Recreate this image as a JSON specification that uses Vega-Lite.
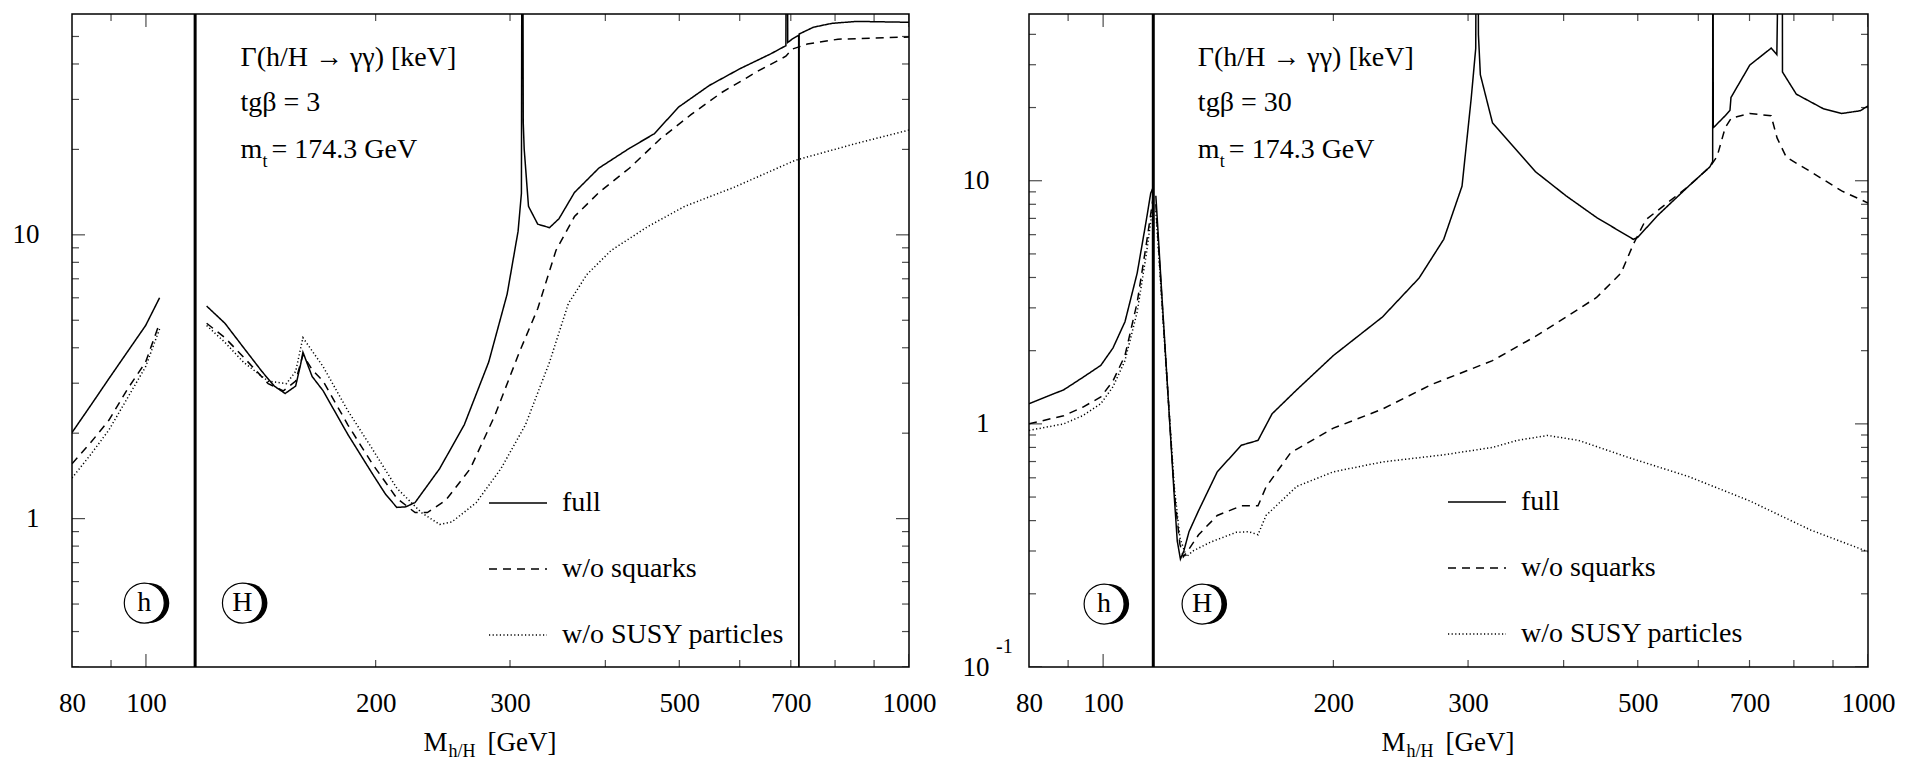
{
 "$schema": "https://vega.github.io/schema/vega-lite/v6.json",
 "background": "white",
 "padding": {"left": 11, "top": 11, "right": 5, "bottom": 0},
 "spacing": 24,
 "config": {
  "font": "Liberation Serif",
  "view": {"stroke": "black", "strokeWidth": 1.5},
  "axis": {"labelFont": "Liberation Serif", "labelFontSize": 27, "labelColor": "black", "ticks": false, "domain": false, "grid": false, "labelOverlap": false, "labelFlush": false},
  "legend": {"orient": "none", "title": null, "symbolType": "stroke", "symbolSize": 3364, "symbolStrokeWidth": 1.5, "symbolStrokeColor": "black", "labelFont": "Liberation Serif", "labelFontSize": 28, "labelColor": "black", "labelOffset": 14, "labelLimit": 0, "rowPadding": 22, "padding": 0}
 },
 "datasets": {
  "L": [
   {"s":"full","seg":"h","m":80,"g":2.01},{"s":"full","seg":"h","m":84.6,"g":2.5},{"s":"full","seg":"h","m":89.4,"g":3.11},{"s":"full","seg":"h","m":94.5,"g":3.86},{"s":"full","seg":"h","m":99.9,"g":4.79},{"s":"full","seg":"h","m":104.2,"g":6.0},
   {"s":"w/o squarks","seg":"h","m":80,"g":1.56},{"s":"w/o squarks","seg":"h","m":84.6,"g":1.85},{"s":"w/o squarks","seg":"h","m":89.4,"g":2.22},{"s":"w/o squarks","seg":"h","m":94.5,"g":2.85},{"s":"w/o squarks","seg":"h","m":99.9,"g":3.56},{"s":"w/o squarks","seg":"h","m":104.2,"g":4.89},
   {"s":"w/o SUSY particles","seg":"h","m":80,"g":1.39},{"s":"w/o SUSY particles","seg":"h","m":84.6,"g":1.68},{"s":"w/o SUSY particles","seg":"h","m":89.4,"g":2.05},{"s":"w/o SUSY particles","seg":"h","m":94.5,"g":2.65},{"s":"w/o SUSY particles","seg":"h","m":99.9,"g":3.43},{"s":"w/o SUSY particles","seg":"h","m":104.2,"g":4.66},
   {"s":"full","seg":"H","m":120.1,"g":5.61},{"s":"full","seg":"H","m":126.9,"g":4.88},{"s":"full","seg":"H","m":134.2,"g":4.01},{"s":"full","seg":"H","m":141.9,"g":3.3},{"s":"full","seg":"H","m":147.3,"g":2.93},{"s":"full","seg":"H","m":152.2,"g":2.76},{"s":"full","seg":"H","m":157.1,"g":2.93},{"s":"full","seg":"H","m":159.5,"g":3.5},{"s":"full","seg":"H","m":160.6,"g":3.86},{"s":"full","seg":"H","m":165.1,"g":3.17},{"s":"full","seg":"H","m":170.7,"g":2.82},{"s":"full","seg":"H","m":183.9,"g":1.98},{"s":"full","seg":"H","m":198,"g":1.44},{"s":"full","seg":"H","m":206,"g":1.22},{"s":"full","seg":"H","m":213.2,"g":1.095},{"s":"full","seg":"H","m":219,"g":1.1},{"s":"full","seg":"H","m":225.3,"g":1.14},{"s":"full","seg":"H","m":242.6,"g":1.5},{"s":"full","seg":"H","m":261.3,"g":2.14},{"s":"full","seg":"H","m":281.3,"g":3.56},{"s":"full","seg":"H","m":297.4,"g":6.18},{"s":"full","seg":"H","m":307.4,"g":10.3},{"s":"full","seg":"H","m":310.5,"g":14},{"s":"full","seg":"H","m":311.4,"g":1000},{"s":"full","seg":"H","m":312.2,"g":25},{"s":"full","seg":"H","m":313.1,"g":20.1},{"s":"full","seg":"H","m":317.2,"g":12.6},{"s":"full","seg":"H","m":326.2,"g":10.9},{"s":"full","seg":"H","m":338,"g":10.6},{"s":"full","seg":"H","m":347.8,"g":11.4},{"s":"full","seg":"H","m":364.4,"g":14.1},{"s":"full","seg":"H","m":392.4,"g":17.2},{"s":"full","seg":"H","m":430.4,"g":20.2},{"s":"full","seg":"H","m":463.6,"g":22.7},{"s":"full","seg":"H","m":499,"g":28.2},{"s":"full","seg":"H","m":547.4,"g":33.6},{"s":"full","seg":"H","m":600.5,"g":38.5},{"s":"full","seg":"H","m":658.6,"g":43.4},{"s":"full","seg":"H","m":689.7,"g":46.4},{"s":"full","seg":"H","m":692.3,"g":1000},{"s":"full","seg":"H","m":693.5,"g":47.6},{"s":"full","seg":"H","m":702.6,"g":48.9},{"s":"full","seg":"H","m":716.8,"g":50.5},{"s":"full","seg":"H","m":717.3,"g":0.01},{"s":"full","seg":"H","m":717.9,"g":51},{"s":"full","seg":"H","m":749.5,"g":53.9},{"s":"full","seg":"H","m":792,"g":55.6},{"s":"full","seg":"H","m":853.4,"g":56.5},{"s":"full","seg":"H","m":1000,"g":56.1},
   {"s":"w/o squarks","seg":"H","m":120.1,"g":4.88},{"s":"w/o squarks","seg":"H","m":126.9,"g":4.34},{"s":"w/o squarks","seg":"H","m":134.2,"g":3.71},{"s":"w/o squarks","seg":"H","m":144.6,"g":2.99},{"s":"w/o squarks","seg":"H","m":151.4,"g":2.82},{"s":"w/o squarks","seg":"H","m":157.1,"g":3.05},{"s":"w/o squarks","seg":"H","m":160.6,"g":3.78},{"s":"w/o squarks","seg":"H","m":165.1,"g":3.35},{"s":"w/o squarks","seg":"H","m":170.7,"g":3.05},{"s":"w/o squarks","seg":"H","m":183.9,"g":2.14},{"s":"w/o squarks","seg":"H","m":198,"g":1.56},{"s":"w/o squarks","seg":"H","m":213.2,"g":1.18},{"s":"w/o squarks","seg":"H","m":225.3,"g":1.05},{"s":"w/o squarks","seg":"H","m":233.8,"g":1.05},{"s":"w/o squarks","seg":"H","m":247.1,"g":1.16},{"s":"w/o squarks","seg":"H","m":266.1,"g":1.5},{"s":"w/o squarks","seg":"H","m":286.6,"g":2.31},{"s":"w/o squarks","seg":"H","m":308.6,"g":3.86},{"s":"w/o squarks","seg":"H","m":326.2,"g":5.5},{"s":"w/o squarks","seg":"H","m":344.6,"g":8.81},{"s":"w/o squarks","seg":"H","m":364.4,"g":11.6},{"s":"w/o squarks","seg":"H","m":392.4,"g":14.1},{"s":"w/o squarks","seg":"H","m":430.4,"g":17.2},{"s":"w/o squarks","seg":"H","m":472.3,"g":21.8},{"s":"w/o squarks","seg":"H","m":517.9,"g":26.5},{"s":"w/o squarks","seg":"H","m":567.9,"g":31.7},{"s":"w/o squarks","seg":"H","m":634.5,"g":37.8},{"s":"w/o squarks","seg":"H","m":689.7,"g":42.6},{"s":"w/o squarks","seg":"H","m":702.6,"g":45.1},{"s":"w/o squarks","seg":"H","m":735.7,"g":47.0},{"s":"w/o squarks","seg":"H","m":807,"g":48.9},{"s":"w/o squarks","seg":"H","m":1000,"g":49.8},
   {"s":"w/o SUSY particles","seg":"H","m":120.1,"g":4.79},{"s":"w/o SUSY particles","seg":"H","m":126.9,"g":4.18},{"s":"w/o SUSY particles","seg":"H","m":134.2,"g":3.56},{"s":"w/o SUSY particles","seg":"H","m":144.6,"g":3.05},{"s":"w/o SUSY particles","seg":"H","m":152.8,"g":2.99},{"s":"w/o SUSY particles","seg":"H","m":157.1,"g":3.3},{"s":"w/o SUSY particles","seg":"H","m":160.6,"g":4.34},{"s":"w/o SUSY particles","seg":"H","m":165.1,"g":3.9},{"s":"w/o SUSY particles","seg":"H","m":170.7,"g":3.43},{"s":"w/o SUSY particles","seg":"H","m":183.9,"g":2.4},{"s":"w/o SUSY particles","seg":"H","m":198,"g":1.76},{"s":"w/o SUSY particles","seg":"H","m":213.2,"g":1.28},{"s":"w/o SUSY particles","seg":"H","m":229.6,"g":1.05},{"s":"w/o SUSY particles","seg":"H","m":242.6,"g":0.954},{"s":"w/o SUSY particles","seg":"H","m":251.7,"g":0.973},{"s":"w/o SUSY particles","seg":"H","m":271,"g":1.14},{"s":"w/o SUSY particles","seg":"H","m":291.9,"g":1.5},{"s":"w/o SUSY particles","seg":"H","m":314.3,"g":2.14},{"s":"w/o SUSY particles","seg":"H","m":338,"g":3.56},{"s":"w/o SUSY particles","seg":"H","m":357.7,"g":5.72},{"s":"w/o SUSY particles","seg":"H","m":378.2,"g":7.24},{"s":"w/o SUSY particles","seg":"H","m":407,"g":8.81},{"s":"w/o SUSY particles","seg":"H","m":454.9,"g":10.7},{"s":"w/o SUSY particles","seg":"H","m":508.2,"g":12.6},{"s":"w/o SUSY particles","seg":"H","m":589.6,"g":14.7},{"s":"w/o SUSY particles","seg":"H","m":709.1,"g":18.3},{"s":"w/o SUSY particles","seg":"H","m":853.4,"g":21.0},{"s":"w/o SUSY particles","seg":"H","m":1000,"g":23.4}
  ],
  "R": [
   {"s":"full","seg":"h","m":80,"g":1.21},{"s":"full","seg":"h","m":84.1,"g":1.29},{"s":"full","seg":"h","m":88.8,"g":1.38},{"s":"full","seg":"h","m":94,"g":1.55},{"s":"full","seg":"h","m":99.3,"g":1.74},{"s":"full","seg":"h","m":103,"g":2.05},{"s":"full","seg":"h","m":106.8,"g":2.63},{"s":"full","seg":"h","m":110.8,"g":4.17},{"s":"full","seg":"h","m":113.9,"g":6.9},{"s":"full","seg":"h","m":115.4,"g":8.88},{"s":"full","seg":"h","m":116.1,"g":9.3},
   {"s":"w/o squarks","seg":"h","m":80,"g":1.0},{"s":"w/o squarks","seg":"h","m":88.8,"g":1.08},{"s":"w/o squarks","seg":"h","m":94,"g":1.17},{"s":"w/o squarks","seg":"h","m":99.3,"g":1.29},{"s":"w/o squarks","seg":"h","m":103,"g":1.5},{"s":"w/o squarks","seg":"h","m":106.8,"g":1.91},{"s":"w/o squarks","seg":"h","m":110.8,"g":3.16},{"s":"w/o squarks","seg":"h","m":113.9,"g":5.5},{"s":"w/o squarks","seg":"h","m":116.1,"g":8.3},
   {"s":"w/o SUSY particles","seg":"h","m":80,"g":0.94},{"s":"w/o SUSY particles","seg":"h","m":88.8,"g":1.0},{"s":"w/o SUSY particles","seg":"h","m":94,"g":1.08},{"s":"w/o SUSY particles","seg":"h","m":99.3,"g":1.21},{"s":"w/o SUSY particles","seg":"h","m":103,"g":1.42},{"s":"w/o SUSY particles","seg":"h","m":106.8,"g":1.82},{"s":"w/o SUSY particles","seg":"h","m":110.8,"g":2.89},{"s":"w/o SUSY particles","seg":"h","m":113.9,"g":5.0},{"s":"w/o SUSY particles","seg":"h","m":116.1,"g":7.8},
   {"s":"full","seg":"H","m":117.2,"g":8.68},{"s":"full","seg":"H","m":119.4,"g":3.3},{"s":"full","seg":"H","m":121.6,"g":1.3},{"s":"full","seg":"H","m":123.9,"g":0.5},{"s":"full","seg":"H","m":125,"g":0.33},{"s":"full","seg":"H","m":126.2,"g":0.278},{"s":"full","seg":"H","m":127.5,"g":0.3},{"s":"full","seg":"H","m":129.5,"g":0.36},{"s":"full","seg":"H","m":133.3,"g":0.44},{"s":"full","seg":"H","m":141,"g":0.635},{"s":"full","seg":"H","m":151.6,"g":0.817},{"s":"full","seg":"H","m":159.4,"g":0.855},{"s":"full","seg":"H","m":166.3,"g":1.1},{"s":"full","seg":"H","m":179.1,"g":1.38},{"s":"full","seg":"H","m":200,"g":1.91},{"s":"full","seg":"H","m":231.8,"g":2.75},{"s":"full","seg":"H","m":258.9,"g":3.98},{"s":"full","seg":"H","m":278.8,"g":5.74},{"s":"full","seg":"H","m":294.6,"g":9.5},{"s":"full","seg":"H","m":302.8,"g":21.7},{"s":"full","seg":"H","m":307,"g":35},{"s":"full","seg":"H","m":308.4,"g":1000},{"s":"full","seg":"H","m":309.5,"g":40},{"s":"full","seg":"H","m":311.3,"g":27.3},{"s":"full","seg":"H","m":322.9,"g":17.3},{"s":"full","seg":"H","m":367.4,"g":10.9},{"s":"full","seg":"H","m":402.9,"g":8.67},{"s":"full","seg":"H","m":441.7,"g":7.06},{"s":"full","seg":"H","m":493.4,"g":5.74},{"s":"full","seg":"H","m":500,"g":5.85},{"s":"full","seg":"H","m":531.4,"g":7.22},{"s":"full","seg":"H","m":582.8,"g":9.5},{"s":"full","seg":"H","m":621.2,"g":11.4},{"s":"full","seg":"H","m":626.5,"g":12},{"s":"full","seg":"H","m":627,"g":1000},{"s":"full","seg":"H","m":627.6,"g":16.5},{"s":"full","seg":"H","m":650.5,"g":18.5},{"s":"full","seg":"H","m":660,"g":19.5},{"s":"full","seg":"H","m":662,"g":22},{"s":"full","seg":"H","m":700.6,"g":29.9},{"s":"full","seg":"H","m":747.1,"g":35.1},{"s":"full","seg":"H","m":760,"g":33},{"s":"full","seg":"H","m":772,"g":1000},{"s":"full","seg":"H","m":773,"g":28},{"s":"full","seg":"H","m":805.9,"g":22.7},{"s":"full","seg":"H","m":873.6,"g":19.8},{"s":"full","seg":"H","m":923.7,"g":18.9},{"s":"full","seg":"H","m":976.7,"g":19.4},{"s":"full","seg":"H","m":1000,"g":20.3},
   {"s":"w/o squarks","seg":"H","m":117.2,"g":8.0},{"s":"w/o squarks","seg":"H","m":119.4,"g":3.2},{"s":"w/o squarks","seg":"H","m":121.6,"g":1.3},{"s":"w/o squarks","seg":"H","m":123.9,"g":0.52},{"s":"w/o squarks","seg":"H","m":126,"g":0.32},{"s":"w/o squarks","seg":"H","m":127.3,"g":0.284},{"s":"w/o squarks","seg":"H","m":129,"g":0.3},{"s":"w/o squarks","seg":"H","m":133.3,"g":0.35},{"s":"w/o squarks","seg":"H","m":141,"g":0.42},{"s":"w/o squarks","seg":"H","m":151.6,"g":0.46},{"s":"w/o squarks","seg":"H","m":159.4,"g":0.46},{"s":"w/o squarks","seg":"H","m":163.3,"g":0.55},{"s":"w/o squarks","seg":"H","m":175.8,"g":0.76},{"s":"w/o squarks","seg":"H","m":200,"g":0.96},{"s":"w/o squarks","seg":"H","m":231.8,"g":1.15},{"s":"w/o squarks","seg":"H","m":268.6,"g":1.45},{"s":"w/o squarks","seg":"H","m":322.9,"g":1.82},{"s":"w/o squarks","seg":"H","m":367.4,"g":2.29},{"s":"w/o squarks","seg":"H","m":402.9,"g":2.75},{"s":"w/o squarks","seg":"H","m":441.7,"g":3.31},{"s":"w/o squarks","seg":"H","m":475.5,"g":4.17},{"s":"w/o squarks","seg":"H","m":493.4,"g":5.48},{"s":"w/o squarks","seg":"H","m":512.1,"g":6.9},{"s":"w/o squarks","seg":"H","m":582.8,"g":9.5},{"s":"w/o squarks","seg":"H","m":621.2,"g":11.4},{"s":"w/o squarks","seg":"H","m":635,"g":12.6},{"s":"w/o squarks","seg":"H","m":650.5,"g":16.5},{"s":"w/o squarks","seg":"H","m":662.7,"g":18.1},{"s":"w/o squarks","seg":"H","m":700.6,"g":18.9},{"s":"w/o squarks","seg":"H","m":747,"g":18.5},{"s":"w/o squarks","seg":"H","m":760.5,"g":15.0},{"s":"w/o squarks","seg":"H","m":782,"g":12.5},{"s":"w/o squarks","seg":"H","m":841.3,"g":10.9},{"s":"w/o squarks","seg":"H","m":923.7,"g":9.08},{"s":"w/o squarks","seg":"H","m":1000,"g":8.1},
   {"s":"w/o SUSY particles","seg":"H","m":117.2,"g":7.5},{"s":"w/o SUSY particles","seg":"H","m":119.4,"g":3.1},{"s":"w/o SUSY particles","seg":"H","m":121.6,"g":1.3},{"s":"w/o SUSY particles","seg":"H","m":123.9,"g":0.55},{"s":"w/o SUSY particles","seg":"H","m":126,"g":0.34},{"s":"w/o SUSY particles","seg":"H","m":128.5,"g":0.284},{"s":"w/o SUSY particles","seg":"H","m":131,"g":0.3},{"s":"w/o SUSY particles","seg":"H","m":138.4,"g":0.327},{"s":"w/o SUSY particles","seg":"H","m":149.3,"g":0.358},{"s":"w/o SUSY particles","seg":"H","m":155,"g":0.36},{"s":"w/o SUSY particles","seg":"H","m":159.4,"g":0.35},{"s":"w/o SUSY particles","seg":"H","m":163.3,"g":0.42},{"s":"w/o SUSY particles","seg":"H","m":179.1,"g":0.553},{"s":"w/o SUSY particles","seg":"H","m":200,"g":0.635},{"s":"w/o SUSY particles","seg":"H","m":231.8,"g":0.697},{"s":"w/o SUSY particles","seg":"H","m":278.8,"g":0.746},{"s":"w/o SUSY particles","seg":"H","m":322.9,"g":0.8},{"s":"w/o SUSY particles","seg":"H","m":347.6,"g":0.855},{"s":"w/o SUSY particles","seg":"H","m":381.3,"g":0.896},{"s":"w/o SUSY particles","seg":"H","m":418.4,"g":0.855},{"s":"w/o SUSY particles","seg":"H","m":484.5,"g":0.73},{"s":"w/o SUSY particles","seg":"H","m":582.8,"g":0.607},{"s":"w/o SUSY particles","seg":"H","m":700.6,"g":0.482},{"s":"w/o SUSY particles","seg":"H","m":841.3,"g":0.366},{"s":"w/o SUSY particles","seg":"H","m":1000,"g":0.298}
  ],
  "ytL": [{"v":1,"k":"major"},{"v":10,"k":"major"},{"v":0.3,"k":"minor"},{"v":0.4,"k":"minor"},{"v":0.5,"k":"minor"},{"v":0.6,"k":"minor"},{"v":0.7,"k":"minor"},{"v":0.8,"k":"minor"},{"v":0.9,"k":"minor"},{"v":2,"k":"minor"},{"v":3,"k":"minor"},{"v":4,"k":"minor"},{"v":5,"k":"minor"},{"v":6,"k":"minor"},{"v":7,"k":"minor"},{"v":8,"k":"minor"},{"v":9,"k":"minor"},{"v":20,"k":"minor"},{"v":30,"k":"minor"},{"v":40,"k":"minor"},{"v":50,"k":"minor"}],
  "ytR": [{"v":0.1,"k":"major"},{"v":1,"k":"major"},{"v":10,"k":"major"},{"v":0.2,"k":"minor"},{"v":0.3,"k":"minor"},{"v":0.4,"k":"minor"},{"v":0.5,"k":"minor"},{"v":0.6,"k":"minor"},{"v":0.7,"k":"minor"},{"v":0.8,"k":"minor"},{"v":0.9,"k":"minor"},{"v":2,"k":"minor"},{"v":3,"k":"minor"},{"v":4,"k":"minor"},{"v":5,"k":"minor"},{"v":6,"k":"minor"},{"v":7,"k":"minor"},{"v":8,"k":"minor"},{"v":9,"k":"minor"},{"v":20,"k":"minor"},{"v":30,"k":"minor"},{"v":40,"k":"minor"}],
  "xt": [{"v":100,"k":"major"},{"v":1000,"k":"major"},{"v":90,"k":"minor"},{"v":200,"k":"minor"},{"v":300,"k":"minor"},{"v":400,"k":"minor"},{"v":500,"k":"minor"},{"v":600,"k":"minor"},{"v":700,"k":"minor"},{"v":800,"k":"minor"},{"v":900,"k":"minor"}],
  "one": [{}]
 },
 "resolve": {"scale": {"strokeDash": "independent", "size": "independent"}, "legend": {"strokeDash": "independent"}},
 "hconcat": [
  {
   "width": 837, "height": 653,
   "layer": [
    {"data": {"name": "L"}, "mark": {"type": "line", "clip": true, "strokeWidth": 1.5, "color": "black"},
     "encoding": {
      "x": {"field": "m", "type": "quantitative", "scale": {"type": "log", "domain": [80, 1000], "nice": false}, "axis": {"values": [80,100,200,300,500,700,1000], "format": "d", "labelPadding": 23, "title": null}},
      "y": {"field": "g", "type": "quantitative", "scale": {"type": "log", "domain": [0.3, 60], "nice": false}, "axis": {"values": [1,10], "format": "d", "labelPadding": 33, "title": null}},
      "strokeDash": {"field": "s", "type": "nominal", "scale": {"domain": ["full","w/o squarks","w/o SUSY particles"], "range": [[1,0],[8,6],[1.2,2.4]]}, "legend": {"legendX": 416, "legendY": 459}},
      "detail": {"field": "seg"}
     }},
    {"data": {"name": "one"}, "mark": {"type": "rule", "strokeWidth": 3, "color": "black"}, "encoding": {"x": {"datum": 116}}},
    {"data": {"name": "ytL"}, "mark": {"type": "tick", "orient": "horizontal", "clip": true, "thickness": 1.2, "color": "black"}, "encoding": {"x": {"datum": 80}, "y": {"field": "v", "type": "quantitative"}, "size": {"field": "k", "type": "ordinal", "scale": {"domain": ["major","minor"], "range": [26,14]}, "legend": null}}},
    {"data": {"name": "ytL"}, "mark": {"type": "tick", "orient": "horizontal", "clip": true, "thickness": 1.2, "color": "black"}, "encoding": {"x": {"datum": 1000}, "y": {"field": "v", "type": "quantitative"}, "size": {"field": "k", "type": "ordinal", "legend": null}}},
    {"data": {"name": "xt"}, "mark": {"type": "tick", "orient": "vertical", "clip": true, "thickness": 1.2, "color": "black"}, "encoding": {"x": {"field": "v", "type": "quantitative"}, "y": {"datum": 0.3}, "size": {"field": "k", "type": "ordinal", "legend": null}}},
    {"data": {"name": "xt"}, "mark": {"type": "tick", "orient": "vertical", "clip": true, "thickness": 1.2, "color": "black"}, "encoding": {"x": {"field": "v", "type": "quantitative"}, "y": {"datum": 60}, "size": {"field": "k", "type": "ordinal", "legend": null}}},
    {"data": {"name": "one"}, "mark": {"type": "point", "shape": "circle", "filled": true, "color": "black", "opacity": 1, "size": 1600, "xOffset": 5}, "encoding": {"x": {"datum": 99.5}, "y": {"datum": 0.504}}},
    {"data": {"name": "one"}, "mark": {"type": "point", "shape": "circle", "filled": true, "fill": "white", "stroke": "black", "strokeWidth": 1.2, "opacity": 1, "size": 1600}, "encoding": {"x": {"datum": 99.5}, "y": {"datum": 0.504}}},
    {"data": {"name": "one"}, "mark": {"type": "text", "text": "h", "font": "Liberation Serif", "fontSize": 28, "align": "center", "baseline": "middle", "color": "black"}, "encoding": {"x": {"datum": 99.5}, "y": {"datum": 0.504}}},
    {"data": {"name": "one"}, "mark": {"type": "point", "shape": "circle", "filled": true, "color": "black", "opacity": 1, "size": 1600, "xOffset": 5}, "encoding": {"x": {"datum": 133.8}, "y": {"datum": 0.504}}},
    {"data": {"name": "one"}, "mark": {"type": "point", "shape": "circle", "filled": true, "fill": "white", "stroke": "black", "strokeWidth": 1.2, "opacity": 1, "size": 1600}, "encoding": {"x": {"datum": 133.8}, "y": {"datum": 0.504}}},
    {"data": {"name": "one"}, "mark": {"type": "text", "text": "H", "font": "Liberation Serif", "fontSize": 28, "align": "center", "baseline": "middle", "color": "black"}, "encoding": {"x": {"datum": 133.8}, "y": {"datum": 0.504}}},
    {"data": {"name": "one"}, "mark": {"type": "text", "text": ["Γ(h/H → γγ) [keV]", "tgβ = 3"], "lineHeight": 45, "font": "Liberation Serif", "fontSize": 28, "align": "left", "baseline": "alphabetic", "dy": 52, "color": "black"}, "encoding": {"x": {"datum": 133}, "y": {"datum": 60}}},
    {"data": {"name": "one"}, "mark": {"type": "text", "text": "m", "font": "Liberation Serif", "fontSize": 28, "align": "left", "baseline": "alphabetic", "dy": 144, "color": "black"}, "encoding": {"x": {"datum": 133}, "y": {"datum": 60}}},
    {"data": {"name": "one"}, "mark": {"type": "text", "text": "t", "font": "Liberation Serif", "fontSize": 18, "align": "left", "baseline": "alphabetic", "dx": 22, "dy": 153, "color": "black"}, "encoding": {"x": {"datum": 133}, "y": {"datum": 60}}},
    {"data": {"name": "one"}, "mark": {"type": "text", "text": "= 174.3 GeV", "font": "Liberation Serif", "fontSize": 28, "align": "left", "baseline": "alphabetic", "dx": 31, "dy": 144, "color": "black"}, "encoding": {"x": {"datum": 133}, "y": {"datum": 60}}},
    {"data": {"name": "one"}, "mark": {"type": "text", "text": "M", "font": "Liberation Serif", "fontSize": 27, "align": "left", "baseline": "alphabetic", "dx": -67, "dy": 84, "color": "black"}, "encoding": {"x": {"datum": 282.8}, "y": {"datum": 0.3}}},
    {"data": {"name": "one"}, "mark": {"type": "text", "text": "h/H", "font": "Liberation Serif", "fontSize": 18, "align": "left", "baseline": "alphabetic", "dx": -42, "dy": 90, "color": "black"}, "encoding": {"x": {"datum": 282.8}, "y": {"datum": 0.3}}},
    {"data": {"name": "one"}, "mark": {"type": "text", "text": "[GeV]", "font": "Liberation Serif", "fontSize": 27, "align": "left", "baseline": "alphabetic", "dx": -3, "dy": 84, "color": "black"}, "encoding": {"x": {"datum": 282.8}, "y": {"datum": 0.3}}}
   ]
  },
  {
   "width": 839, "height": 653,
   "layer": [
    {"data": {"name": "R"}, "mark": {"type": "line", "clip": true, "strokeWidth": 1.5, "color": "black"},
     "encoding": {
      "x": {"field": "m", "type": "quantitative", "scale": {"type": "log", "domain": [80, 1000], "nice": false}, "axis": {"values": [80,100,200,300,500,700,1000], "format": "d", "labelPadding": 23, "title": null}},
      "y": {"field": "g", "type": "quantitative", "scale": {"type": "log", "domain": [0.1, 48.5], "nice": false}, "axis": {"values": [0.1,1,10], "labelExpr": "datum.value < 0.5 ? '10' : (datum.value < 5 ? '1' : '10')", "labelPadding": 40, "title": null}},
      "strokeDash": {"field": "s", "type": "nominal", "scale": {"domain": ["full","w/o squarks","w/o SUSY particles"], "range": [[1,0],[8,6],[1.2,2.4]]}, "legend": {"legendX": 418, "legendY": 458}},
      "detail": {"field": "seg"}
     }},
    {"data": {"name": "one"}, "mark": {"type": "rule", "strokeWidth": 3, "color": "black"}, "encoding": {"x": {"datum": 116.3}}},
    {"data": {"name": "ytR"}, "mark": {"type": "tick", "orient": "horizontal", "clip": true, "thickness": 1.2, "color": "black"}, "encoding": {"x": {"datum": 80}, "y": {"field": "v", "type": "quantitative"}, "size": {"field": "k", "type": "ordinal", "scale": {"domain": ["major","minor"], "range": [26,14]}, "legend": null}}},
    {"data": {"name": "ytR"}, "mark": {"type": "tick", "orient": "horizontal", "clip": true, "thickness": 1.2, "color": "black"}, "encoding": {"x": {"datum": 1000}, "y": {"field": "v", "type": "quantitative"}, "size": {"field": "k", "type": "ordinal", "legend": null}}},
    {"data": {"name": "xt"}, "mark": {"type": "tick", "orient": "vertical", "clip": true, "thickness": 1.2, "color": "black"}, "encoding": {"x": {"field": "v", "type": "quantitative"}, "y": {"datum": 0.1}, "size": {"field": "k", "type": "ordinal", "legend": null}}},
    {"data": {"name": "xt"}, "mark": {"type": "tick", "orient": "vertical", "clip": true, "thickness": 1.2, "color": "black"}, "encoding": {"x": {"field": "v", "type": "quantitative"}, "y": {"datum": 48.5}, "size": {"field": "k", "type": "ordinal", "legend": null}}},
    {"data": {"name": "one"}, "mark": {"type": "point", "shape": "circle", "filled": true, "color": "black", "opacity": 1, "size": 1600, "xOffset": 5}, "encoding": {"x": {"datum": 100.3}, "y": {"datum": 0.1815}}},
    {"data": {"name": "one"}, "mark": {"type": "point", "shape": "circle", "filled": true, "fill": "white", "stroke": "black", "strokeWidth": 1.2, "opacity": 1, "size": 1600}, "encoding": {"x": {"datum": 100.3}, "y": {"datum": 0.1815}}},
    {"data": {"name": "one"}, "mark": {"type": "text", "text": "h", "font": "Liberation Serif", "fontSize": 28, "align": "center", "baseline": "middle", "color": "black"}, "encoding": {"x": {"datum": 100.3}, "y": {"datum": 0.1815}}},
    {"data": {"name": "one"}, "mark": {"type": "point", "shape": "circle", "filled": true, "color": "black", "opacity": 1, "size": 1600, "xOffset": 5}, "encoding": {"x": {"datum": 134.7}, "y": {"datum": 0.1815}}},
    {"data": {"name": "one"}, "mark": {"type": "point", "shape": "circle", "filled": true, "fill": "white", "stroke": "black", "strokeWidth": 1.2, "opacity": 1, "size": 1600}, "encoding": {"x": {"datum": 134.7}, "y": {"datum": 0.1815}}},
    {"data": {"name": "one"}, "mark": {"type": "text", "text": "H", "font": "Liberation Serif", "fontSize": 28, "align": "center", "baseline": "middle", "color": "black"}, "encoding": {"x": {"datum": 134.7}, "y": {"datum": 0.1815}}},
    {"data": {"name": "one"}, "mark": {"type": "text", "text": ["Γ(h/H → γγ) [keV]", "tgβ = 30"], "lineHeight": 45, "font": "Liberation Serif", "fontSize": 28, "align": "left", "baseline": "alphabetic", "dy": 52, "color": "black"}, "encoding": {"x": {"datum": 133}, "y": {"datum": 48.5}}},
    {"data": {"name": "one"}, "mark": {"type": "text", "text": "m", "font": "Liberation Serif", "fontSize": 28, "align": "left", "baseline": "alphabetic", "dy": 144, "color": "black"}, "encoding": {"x": {"datum": 133}, "y": {"datum": 48.5}}},
    {"data": {"name": "one"}, "mark": {"type": "text", "text": "t", "font": "Liberation Serif", "fontSize": 18, "align": "left", "baseline": "alphabetic", "dx": 22, "dy": 153, "color": "black"}, "encoding": {"x": {"datum": 133}, "y": {"datum": 48.5}}},
    {"data": {"name": "one"}, "mark": {"type": "text", "text": "= 174.3 GeV", "font": "Liberation Serif", "fontSize": 28, "align": "left", "baseline": "alphabetic", "dx": 31, "dy": 144, "color": "black"}, "encoding": {"x": {"datum": 133}, "y": {"datum": 48.5}}},
    {"data": {"name": "one"}, "mark": {"type": "text", "text": "-1", "font": "Liberation Serif", "fontSize": 20, "align": "left", "baseline": "alphabetic", "dx": -33, "dy": -14, "color": "black"}, "encoding": {"x": {"datum": 80}, "y": {"datum": 0.1}}},
    {"data": {"name": "one"}, "mark": {"type": "text", "text": "M", "font": "Liberation Serif", "fontSize": 27, "align": "left", "baseline": "alphabetic", "dx": -67, "dy": 84, "color": "black"}, "encoding": {"x": {"datum": 282.8}, "y": {"datum": 0.1}}},
    {"data": {"name": "one"}, "mark": {"type": "text", "text": "h/H", "font": "Liberation Serif", "fontSize": 18, "align": "left", "baseline": "alphabetic", "dx": -42, "dy": 90, "color": "black"}, "encoding": {"x": {"datum": 282.8}, "y": {"datum": 0.1}}},
    {"data": {"name": "one"}, "mark": {"type": "text", "text": "[GeV]", "font": "Liberation Serif", "fontSize": 27, "align": "left", "baseline": "alphabetic", "dx": -3, "dy": 84, "color": "black"}, "encoding": {"x": {"datum": 282.8}, "y": {"datum": 0.1}}}
   ]
  }
 ]
}
